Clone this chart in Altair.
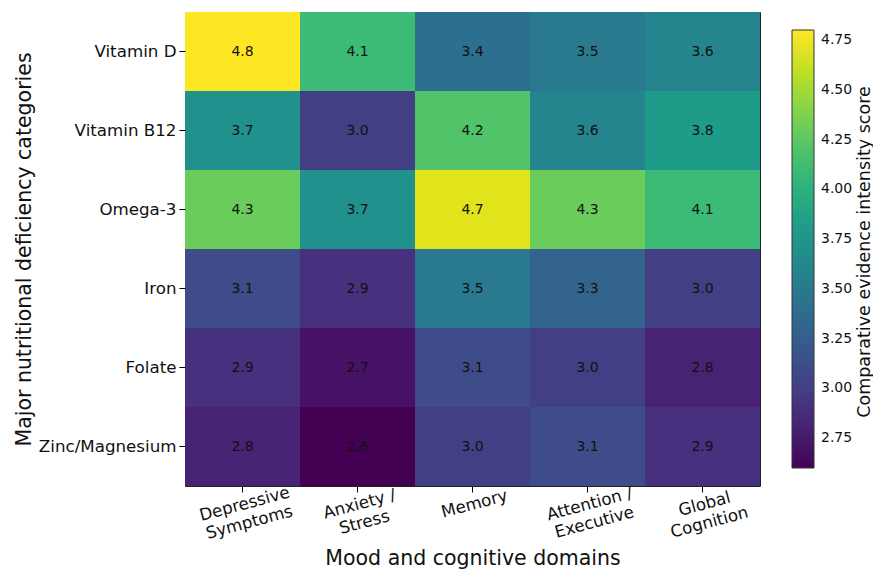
import altair as alt
import pandas as pd

rows = ["Vitamin D", "Vitamin B12", "Omega-3", "Iron", "Folate", "Zinc/Magnesium"]
cols = ["Depressive\nSymptoms", "Anxiety /\nStress", "Memory", "Attention /\nExecutive", "Global\nCognition"]
values = [
    [4.8, 4.1, 3.4, 3.5, 3.6],
    [3.7, 3.0, 4.2, 3.6, 3.8],
    [4.3, 3.7, 4.7, 4.3, 4.1],
    [3.1, 2.9, 3.5, 3.3, 3.0],
    [2.9, 2.7, 3.1, 3.0, 2.8],
    [2.8, 2.6, 3.0, 3.1, 2.9],
]
legend_ticks = [2.75, 3.00, 3.25, 3.50, 3.75, 4.00, 4.25, 4.50, 4.75]

records = []
for r, row in zip(rows, values):
    for c, v in zip(cols, row):
        records.append({"nutrient": r, "domain": c, "score": v})
df = pd.DataFrame(records)

FONT = "DejaVu Sans"
W, H = 575, 474
DOMAIN = [2.6, 4.8]

base = alt.Chart(df).encode(
    x=alt.X("domain:N", sort=cols, title="Mood and cognitive domains",
            axis=alt.Axis(labelAngle=345, labelExpr="split(datum.value, '\\n')",
                          labelAlign="center", labelBaseline="top", labelPadding=4,
                          labelLineHeight=19, labelFontSize=16.7, titleFontSize=20.5,
                          titlePadding=6, grid=False,
                          tickSize=6, tickColor="black", domain=False,
                          labelColor="#111111", titleColor="#111111", titleFontWeight="normal")),
    y=alt.Y("nutrient:N", sort=rows, title="Major nutritional deficiency categories",
            axis=alt.Axis(labelFontSize=16.7, titleFontSize=20.5, titlePadding=4,
                          labelPadding=3, grid=False,
                          tickSize=6, tickColor="black", domain=False,
                          labelColor="#111111", titleColor="#111111", titleFontWeight="normal")),
)

heat = base.mark_rect(strokeWidth=0).encode(
    color=alt.Color("score:Q",
                    scale=alt.Scale(scheme="viridis", domain=DOMAIN),
                    legend=alt.Legend(orient="none", legendX=607, legendY=18,
                                      direction="vertical", title=None,
                                      gradientLength=438, gradientThickness=22,
                                      gradientStrokeColor="#333333", gradientStrokeWidth=1,
                                      values=legend_ticks, format=".2f",
                                      labelFontSize=14, labelColor="#111111", labelOffset=7,
                                      labelFont=FONT)),
)

txt = base.mark_text(fontSize=14, color="#111111", font=FONT).encode(
    text=alt.Text("score:Q", format=".1f")
)

ctitle = alt.Chart(pd.DataFrame({"t": ["Comparative evidence intensity score"]})).mark_text(
    angle=270, fontSize=17.5, font=FONT, color="#111111", align="center", baseline="alphabetic"
).encode(x=alt.value(685), y=alt.value(240), text="t:N")

chart = alt.layer(heat, txt, ctitle).properties(
    width=W, height=H,
    autosize=alt.AutoSizeParams(type="none"),
    padding={"left": 177, "top": 4, "right": 113, "bottom": 85},
).configure_view(stroke="#222222", strokeWidth=1).configure_axis(
    labelFont=FONT, titleFont=FONT
).configure_scale(bandPaddingInner=0, bandPaddingOuter=0)

chart.save("out.html", embed_options={"renderer": "svg", "actions": False})
